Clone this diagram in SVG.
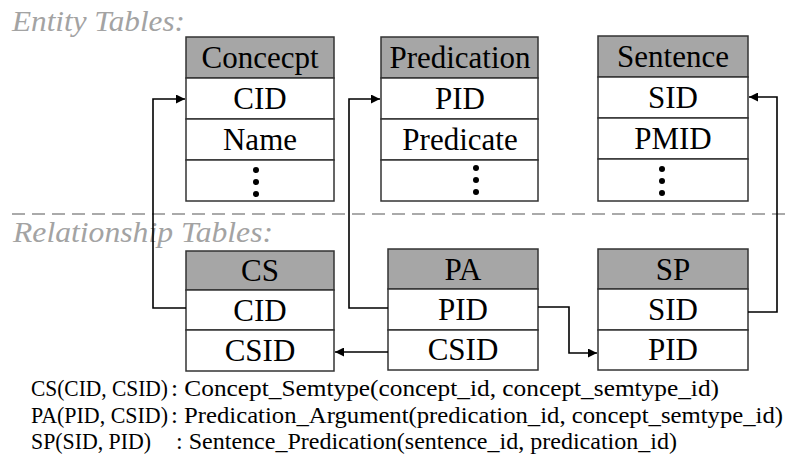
<svg xmlns="http://www.w3.org/2000/svg" width="785" height="459" viewBox="0 0 785 459">
<style>
.hd{fill:#a6a6a6;stroke:#333;stroke-width:1.5}
.cell{fill:#fff;stroke:#333;stroke-width:1.5}
.t{font-family:'Liberation Serif',serif;font-size:31px;fill:#000;text-anchor:middle}
.sec{font-family:'Liberation Serif',serif;font-style:italic;font-size:30px;fill:#a3a3a3}
.leg{font-family:'Liberation Serif',serif;font-size:24px;fill:#000}
.c{fill:none;stroke:#000;stroke-width:1.6}
.dot{fill:#000}
</style>
<defs>
<marker id="ah" viewBox="0 0 10 10" refX="10" refY="5" markerWidth="9" markerHeight="9" markerUnits="userSpaceOnUse" orient="auto">
<path d="M0,0 L10,5 L0,10 z" fill="#000"/>
</marker>
</defs>
<text class="sec" x="12" y="31" textLength="173" lengthAdjust="spacingAndGlyphs">Entity Tables:</text>
<line x1="12" y1="214" x2="785" y2="214" stroke="#aaa" stroke-width="2" stroke-dasharray="13 7"/>
<text class="sec" x="13" y="242" textLength="260" lengthAdjust="spacingAndGlyphs">Relationship Tables:</text>

<g id="concept">
<rect class="hd" x="186" y="37" width="148" height="41"/>
<rect class="cell" x="186" y="78" width="148" height="41"/>
<rect class="cell" x="186" y="119" width="148" height="41"/>
<rect class="cell" x="186" y="160" width="148" height="41"/>
<text class="t" x="260" y="68">Concecpt</text>
<text class="t" x="260" y="109">CID</text>
<text class="t" x="260" y="150">Name</text>
<circle class="dot" cx="256" cy="170" r="3"/><circle class="dot" cx="256" cy="182" r="3"/><circle class="dot" cx="256" cy="194" r="3"/>
</g>
<g id="predication">
<rect class="hd" x="381" y="37" width="157" height="41"/>
<rect class="cell" x="381" y="78" width="157" height="41"/>
<rect class="cell" x="381" y="119" width="157" height="41"/>
<rect class="cell" x="381" y="160" width="157" height="41"/>
<text class="t" x="460" y="68">Predication</text>
<text class="t" x="460" y="109">PID</text>
<text class="t" x="460" y="150">Predicate</text>
<circle class="dot" cx="476" cy="168" r="3"/><circle class="dot" cx="476" cy="180" r="3"/><circle class="dot" cx="476" cy="192" r="3"/>
</g>
<g id="sentence">
<rect class="hd" x="598" y="36" width="150" height="41"/>
<rect class="cell" x="598" y="77" width="150" height="41"/>
<rect class="cell" x="598" y="118" width="150" height="41"/>
<rect class="cell" x="598" y="159" width="150" height="42"/>
<text class="t" x="673" y="67">Sentence</text>
<text class="t" x="673" y="108">SID</text>
<text class="t" x="673" y="149">PMID</text>
<circle class="dot" cx="662" cy="169" r="3"/><circle class="dot" cx="662" cy="181" r="3"/><circle class="dot" cx="662" cy="193" r="3"/>
</g>
<g id="cs">
<rect class="hd" x="186" y="251" width="148" height="39"/>
<rect class="cell" x="186" y="290" width="148" height="40"/>
<rect class="cell" x="186" y="330" width="148" height="41"/>
<text class="t" x="260" y="281">CS</text>
<text class="t" x="260" y="321">CID</text>
<text class="t" x="260" y="361">CSID</text>
</g>
<g id="pa">
<rect class="hd" x="388" y="249" width="150" height="40"/>
<rect class="cell" x="388" y="289" width="150" height="41"/>
<rect class="cell" x="388" y="330" width="150" height="40"/>
<text class="t" x="463" y="280">PA</text>
<text class="t" x="463" y="320">PID</text>
<text class="t" x="463" y="360">CSID</text>
</g>
<g id="sp">
<rect class="hd" x="598" y="249" width="150" height="40"/>
<rect class="cell" x="598" y="289" width="150" height="41"/>
<rect class="cell" x="598" y="330" width="150" height="40"/>
<text class="t" x="673" y="280">SP</text>
<text class="t" x="673" y="320">SID</text>
<text class="t" x="673" y="360">PID</text>
</g>

<g id="connectors">
<path class="c" d="M186,308 H153 V99 H185" marker-end="url(#ah)"/>
<path class="c" d="M388,308 H349 V99 H380" marker-end="url(#ah)"/>
<path class="c" d="M388,352 H335" marker-end="url(#ah)"/>
<path class="c" d="M538,307 H569 V353 H597" marker-end="url(#ah)"/>
<path class="c" d="M748,312 H777 V97 H749" marker-end="url(#ah)"/>
</g>

<g id="legend">
<text class="leg" x="31" y="396" textLength="137" lengthAdjust="spacingAndGlyphs">CS(CID, CSID)</text>
<text class="leg" x="171" y="396" textLength="548" lengthAdjust="spacingAndGlyphs">: Concept_Semtype(concept_id, concept_semtype_id)</text>
<text class="leg" x="31" y="423" textLength="137" lengthAdjust="spacingAndGlyphs">PA(PID, CSID)</text>
<text class="leg" x="171" y="423" textLength="612" lengthAdjust="spacingAndGlyphs">: Predication_Argument(predication_id, concept_semtype_id)</text>
<text class="leg" x="31" y="449" textLength="120" lengthAdjust="spacingAndGlyphs">SP(SID, PID)</text>
<text class="leg" x="176" y="449" textLength="501" lengthAdjust="spacingAndGlyphs">: Sentence_Predication(sentence_id, predication_id)</text>
</g>
</svg>
